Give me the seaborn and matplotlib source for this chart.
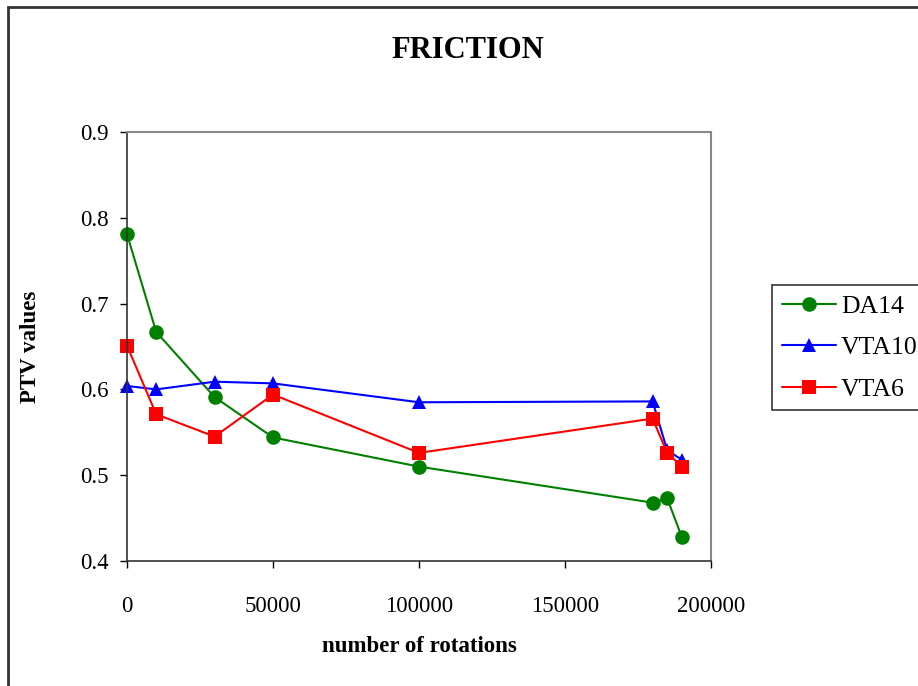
import pandas as pd
import numpy as np
import seaborn as sns
import matplotlib.pyplot as plt
from matplotlib.patches import Rectangle

# data
rotations = [0, 10000, 30000, 50000, 100000, 180000, 185000, 190000]
da14 = [0.781, 0.667, 0.591, 0.544, 0.510, 0.468, 0.473, 0.428]
vta10 = [0.604, 0.600, 0.609, 0.607, 0.585, 0.586, 0.529, 0.518]
vta6 = [0.651, 0.571, 0.545, 0.594, 0.526, 0.566, 0.526, 0.510]
series_names = ["DA14", "VTA10", "VTA6"]

df = pd.DataFrame({
    "rotations": rotations * 3,
    "PTV": da14 + vta10 + vta6,
    "series": np.repeat(series_names, len(rotations)),
})

sns.set_style("white")
plt.rcParams["font.family"] = ["Liberation Serif", "DejaVu Serif"]
plt.rcParams["text.color"] = "black"
plt.rcParams["axes.labelcolor"] = "black"

fig = plt.figure(figsize=(9.18, 6.86), dpi=100)
ax = fig.add_axes([127 / 918, 1 - 561 / 686, (711 - 127) / 918, (561 - 132) / 686])

colors = {"DA14": "#008000", "VTA10": "#0000ff", "VTA6": "#ff0000"}
markers = {"DA14": "o", "VTA10": "^", "VTA6": "s"}

sns.lineplot(data=df, x="rotations", y="PTV", hue="series", style="series",
             palette=colors, markers=markers, dashes=False, markersize=10.5,
             markeredgewidth=0, linewidth=1.5, sort=False, ax=ax, legend=True)
for line in ax.lines:
    line.set_clip_on(False)

ax.set_xlim(0, 200000)
ax.set_ylim(0.4, 0.9)
ax.set_xticks([0, 50000, 100000, 150000, 200000])
ax.set_yticks([0.4, 0.5, 0.6, 0.7, 0.8, 0.9])
ax.set_yticklabels(["0.4", "0.5", "0.6", "0.7", "0.8", "0.9"])
ax.tick_params(axis="both", direction="out", length=5, width=1, color="black",
               labelsize=16.5, labelcolor="black", bottom=True, left=True)
ax.tick_params(axis="x", pad=20)
ax.tick_params(axis="y", pad=8)

for side in ["left", "bottom"]:
    ax.spines[side].set_color("#333333")
    ax.spines[side].set_linewidth(1.2)
for side in ["top", "right"]:
    ax.spines[side].set_color("#888888")
    ax.spines[side].set_linewidth(1.5)

ax.set_xlabel("number of rotations", fontsize=16.5, fontweight="bold", labelpad=14)
ax.set_ylabel("PTV values", fontsize=16.5, fontweight="bold", labelpad=28)
fig.text(468 / 918, 1 - 50 / 686, "FRICTION", fontsize=22, fontweight="bold",
         ha="center", va="center")

handles, labels = ax.get_legend_handles_labels()
for h in handles:
    h.set_linewidth(1.5)
leg = ax.legend(handles, labels, loc="upper left",
                bbox_to_anchor=(772 / 918, 1 - 285 / 686),
                bbox_transform=fig.transFigure, fontsize=18.5, frameon=True,
                fancybox=False, edgecolor="black", handlelength=2.1,
                labelspacing=0.72, borderpad=0.38, borderaxespad=0,
                handletextpad=0.2)
leg.get_frame().set_linewidth(1.2)

# outer chart border
fig.patches.append(Rectangle((8 / 918, -0.1), 1.2, 1 - 7 / 686 + 0.1,
                             transform=fig.transFigure, fill=False,
                             edgecolor="#333333", linewidth=2))

fig.savefig("out.png", dpi=100)
